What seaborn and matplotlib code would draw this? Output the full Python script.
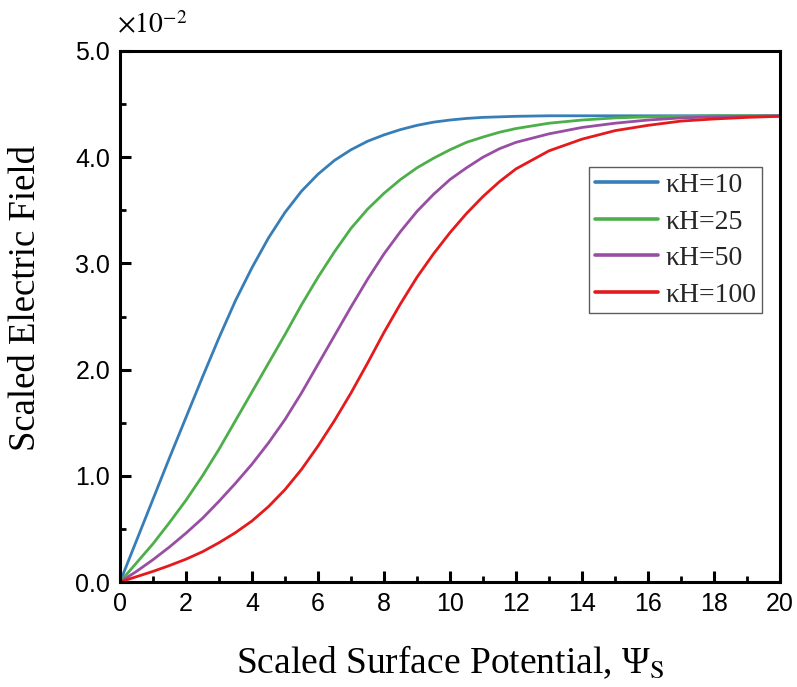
import numpy as np
import pandas as pd
import matplotlib
matplotlib.use("Agg")
import matplotlib.pyplot as plt
import seaborn as sns
from matplotlib.ticker import MultipleLocator, FormatStrFormatter

# ---- data (y in units of 1e-2) ----
psi = [0, 0.5, 1, 1.5, 2, 2.5, 3, 3.5, 4, 4.5, 5, 5.5, 6, 6.5, 7, 7.5, 8, 8.5,
       9, 9.5, 10, 10.5, 11, 11.5, 12, 13, 14, 15, 16, 17, 18, 19, 20]
kh10 = [0, 0.39, 0.78, 1.17, 1.55, 1.93, 2.30, 2.65, 2.96, 3.24, 3.48, 3.68,
        3.84, 3.97, 4.07, 4.15, 4.21, 4.26, 4.30, 4.33, 4.35, 4.365, 4.375,
        4.38, 4.385, 4.39, 4.39, 4.39, 4.39, 4.39, 4.39, 4.39, 4.39]
kh25 = [0, 0.18, 0.36, 0.56, 0.77, 1.00, 1.25, 1.52, 1.79, 2.06, 2.33, 2.61,
        2.87, 3.11, 3.33, 3.51, 3.66, 3.79, 3.90, 3.99, 4.07, 4.14, 4.19,
        4.235, 4.27, 4.32, 4.35, 4.37, 4.38, 4.385, 4.39, 4.39, 4.39]
kh50 = [0, 0.10, 0.21, 0.33, 0.46, 0.60, 0.76, 0.93, 1.11, 1.31, 1.53, 1.78,
        2.05, 2.32, 2.59, 2.85, 3.09, 3.30, 3.49, 3.65, 3.79, 3.90, 4.00,
        4.08, 4.14, 4.22, 4.28, 4.32, 4.35, 4.37, 4.38, 4.385, 4.39]
kh100 = [0, 0.05, 0.10, 0.155, 0.215, 0.285, 0.37, 0.465, 0.575, 0.71, 0.87,
         1.06, 1.28, 1.52, 1.78, 2.06, 2.35, 2.62, 2.87, 3.09, 3.29, 3.47,
         3.63, 3.77, 3.89, 4.06, 4.17, 4.25, 4.30, 4.34, 4.36, 4.375, 4.385]
labels = ["κH=10", "κH=25", "κH=50", "κH=100"]
colors = ["#377eb8", "#4daf4a", "#984ea3", "#e41a1c"]
xticks = [0, 2, 4, 6, 8, 10, 12, 14, 16, 18, 20]
yticks = [0.0, 1.0, 2.0, 3.0, 4.0, 5.0]

rows = []
for lab, ys in zip(labels, [kh10, kh25, kh50, kh100]):
    for xv, yv in zip(psi, ys):
        rows.append({"psi": xv, "E": yv, "series": lab})
df = pd.DataFrame(rows)

sns.set_theme(style="white")
plt.rcParams["font.family"] = ["Liberation Serif", "DejaVu Serif"]
plt.rcParams["mathtext.fontset"] = "stix"

fig = plt.figure(figsize=(7.97, 6.87), dpi=100)
ax = fig.add_axes([120 / 797, 105 / 687, 660 / 797, 531 / 687])

sns.lineplot(data=df, x="psi", y="E", hue="series", hue_order=labels,
             palette=colors, linewidth=2.0, ax=ax, legend=True)

ax.set_xlim(0, 20)
ax.set_ylim(0, 5.0)
ax.set_xticks(xticks)
ax.set_yticks(yticks)
ax.xaxis.set_minor_locator(MultipleLocator(1))
ax.yaxis.set_minor_locator(MultipleLocator(0.5))
ax.yaxis.set_major_formatter(FormatStrFormatter("%.1f"))

for sp in ax.spines.values():
    sp.set_visible(True)
    sp.set_color("black")
    sp.set_linewidth(2.2)

ax.tick_params(axis="both", which="major", direction="in", length=8, width=2.2,
               color="black", labelsize=18, pad=7, top=False, right=False,
               bottom=True, left=True)
ax.tick_params(axis="both", which="minor", direction="in", length=4, width=2.0,
               color="black", top=False, right=False, bottom=True, left=True)
for t in ax.get_xticklabels() + ax.get_yticklabels():
    t.set_fontfamily("Liberation Sans")
    t.set_color("black")

ax.set_xlabel("Scaled Surface Potential, Ψ$_{\\mathrm{S}}$", fontsize=27, color="black")
ax.set_ylabel("Scaled Electric Field", fontsize=26.5, color="black")
ax.xaxis.set_label_coords(0.5, -0.115)
ax.yaxis.set_label_coords(-0.117, 0.535)

fig.text(117 / 797, 1 - 33 / 687, r"$\times10^{-2}$", fontsize=20,
         ha="left", va="baseline", color="black")

leg = ax.legend(loc="upper left", bbox_to_anchor=(0.7106, 0.7815),
                borderaxespad=0, fontsize=20, frameon=True, fancybox=False,
                handlelength=2.3, handletextpad=0.25, borderpad=0.2,
                labelspacing=0.4)
leg.get_frame().set_edgecolor("#333333")
leg.get_frame().set_linewidth(1.0)
for line in leg.get_lines():
    line.set_linewidth(2.6)

fig.savefig("out.png", dpi=100, facecolor="white")
